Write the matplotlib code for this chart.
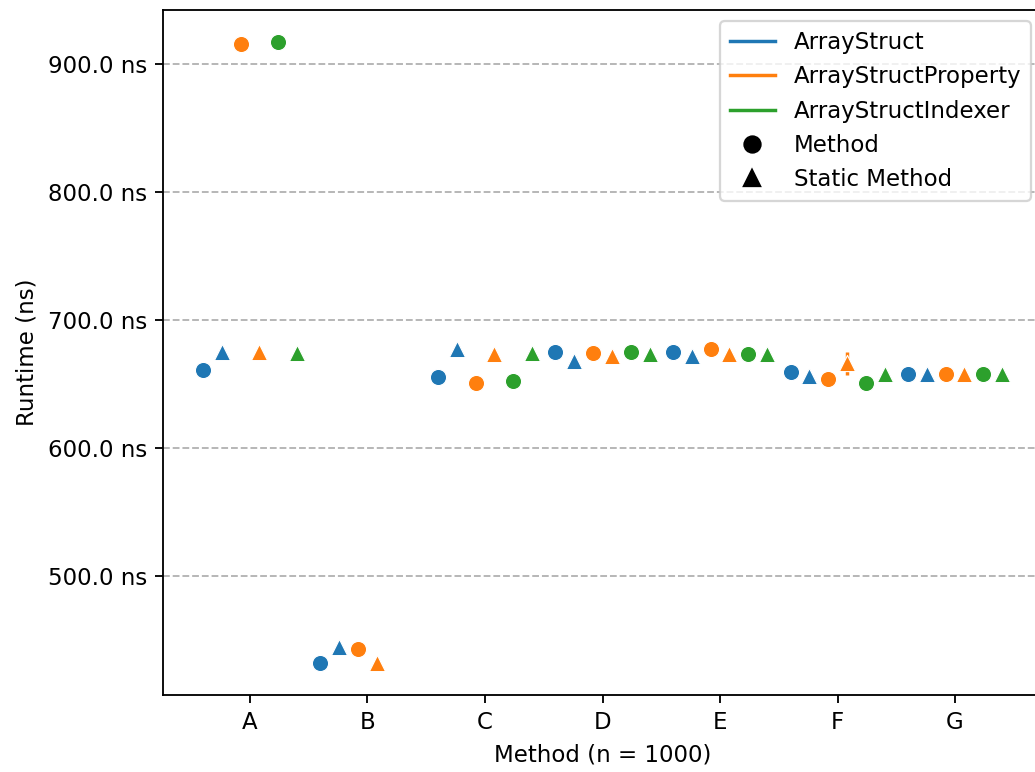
import numpy as np
import matplotlib.pyplot as plt
from matplotlib.lines import Line2D
from matplotlib.ticker import FuncFormatter

categories = ["A", "B", "C", "D", "E", "F", "G"]
series_names = ["ArrayStruct", "ArrayStructProperty", "ArrayStructIndexer"]
colors = ["#1f77b4", "#ff7f0e", "#2ca02c"]

# runtime in ns, per category (nan = not measured)
struct_method = [661, 432, 655, 675, 675, 659, 658]
struct_static = [675, 444, 677, 668, 672, 656, 658]
property_method = [916, 443, 651, 674, 677, 654, 658]
property_static = [675, 432, 673, 672, 673, 666, 658]
indexer_method = [917, np.nan, 652, 675, 673, 651, 658]
indexer_static = [674, np.nan, 674, 673, 673, 658, 658]

# error (ns), only visible on F / ArrayStructProperty static
struct_method_err = [1, 1, 1, 1, 1, 1, 1]
struct_static_err = [1, 1, 1, 1, 1, 1, 1]
property_method_err = [1, 1, 1, 1, 1, 1, 1]
property_static_err = [1, 1, 1, 1, 1, 9, 1]
indexer_method_err = [1, 1, 1, 1, 1, 1, 1]
indexer_static_err = [1, 1, 1, 1, 1, 1, 1]


def main():
    W, H, dpi = 1035, 772, 165
    fig = plt.figure(figsize=(W / dpi, H / dpi), dpi=dpi)
    # axes extend a bit past the right edge like the (cropped) original
    left, right, top, bottom = 163, 1042, 10, 695
    ax = fig.add_axes([left / W, (H - bottom) / H, (right - left) / W, (bottom - top) / H])

    x = np.arange(len(categories))
    runs = [
        (struct_method, struct_method_err, 0, "o"),
        (struct_static, struct_static_err, 0, "^"),
        (property_method, property_method_err, 1, "o"),
        (property_static, property_static_err, 1, "^"),
        (indexer_method, indexer_method_err, 2, "o"),
        (indexer_static, indexer_static_err, 2, "^"),
    ]
    offsets = np.linspace(-0.4, 0.4, len(runs))

    for (vals, errs, ci, marker), off in zip(runs, offsets):
        ax.errorbar(x + off, vals, yerr=errs, fmt="none", ecolor=colors[ci],
                    elinewidth=1.5, zorder=2)
        ax.scatter(x + off, vals, s=50, marker=marker, color=colors[ci],
                   edgecolors="white", linewidths=0.5, zorder=3)

    ax.set_xticks(x)
    ax.set_xticklabels(categories)
    ax.yaxis.set_major_formatter(FuncFormatter(lambda v, _: f"{v:.1f} ns"))
    ax.yaxis.grid(True, linestyle="--", color="gray", alpha=0.6, linewidth=0.8)
    ax.set_axisbelow(True)
    ax.set_xlabel("Method (n = 1000)")
    ax.set_ylabel("Runtime (ns)")

    handles = [Line2D([0], [0], color=c, lw=1.5, label=n) for c, n in zip(colors, series_names)]
    handles += [
        Line2D([0], [0], marker="o", linestyle="", color="black", markersize=7, label="Method"),
        Line2D([0], [0], marker="^", linestyle="", color="black", markersize=7, label="Static Method"),
    ]
    ax.legend(handles=handles, loc="upper right")

    fig.savefig("out.png", dpi=dpi)


if __name__ == "__main__":
    main()
